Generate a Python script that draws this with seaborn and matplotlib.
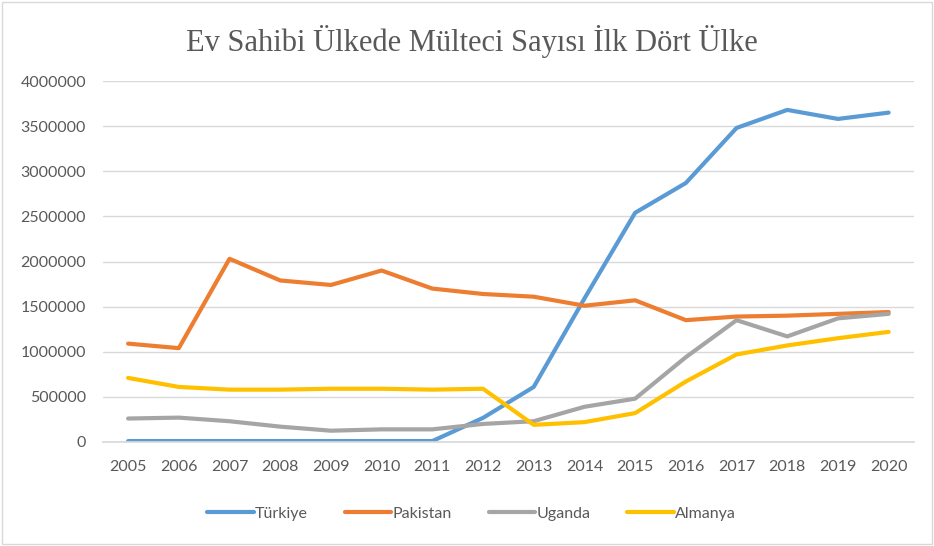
import pandas as pd
import matplotlib.pyplot as plt
import seaborn as sns
from matplotlib.patches import Rectangle

# data
years = [str(y) for y in range(2005, 2021)]
turkiye = [10000, 10000, 10000, 10000, 10000, 10000, 10000, 267000, 610000,
           1590000, 2540000, 2870000, 3480000, 3680000, 3580000, 3650000]
pakistan = [1090000, 1040000, 2030000, 1790000, 1740000, 1900000, 1700000, 1640000,
            1610000, 1510000, 1570000, 1350000, 1390000, 1400000, 1420000, 1440000]
uganda = [260000, 270000, 230000, 170000, 125000, 140000, 140000, 200000,
          230000, 390000, 480000, 940000, 1350000, 1170000, 1370000, 1420000]
almanya = [710000, 610000, 580000, 580000, 590000, 590000, 580000, 590000,
           190000, 220000, 320000, 670000, 970000, 1070000, 1150000, 1220000]
countries = ["Türkiye", "Pakistan", "Uganda", "Almanya"]
colors = ["#5B9BD5", "#ED7D31", "#A5A5A5", "#FFC000"]
yticks = list(range(0, 4000001, 500000))

frames = []
for name, vals in zip(countries, [turkiye, pakistan, uganda, almanya]):
    frames.append(pd.DataFrame({"year": years, "value": vals, "country": name}))
df = pd.concat(frames, ignore_index=True)

sns.set_theme(style="white")
plt.rcParams['font.family'] = ['Lato', 'DejaVu Sans']
text_gray = "#595959"

fig = plt.figure(figsize=(9.34, 5.46), dpi=100)
ax = fig.add_axes([0.110, 0.1905, 0.8686, 0.6611])

sns.lineplot(data=df, x="year", y="value", hue="country", hue_order=countries,
             palette=colors, linewidth=3, ax=ax, sort=False)

ax.set_xlim(-0.5, len(years) - 0.5)
ax.set_ylim(0, 4000000)
ax.set_yticks(yticks)
ax.set_yticklabels([str(v) for v in yticks])
ax.yaxis.grid(True, color="#D9D9D9", linewidth=1)
ax.set_axisbelow(True)
for side in ["top", "right", "left"]:
    ax.spines[side].set_visible(False)
ax.spines["bottom"].set_color("#D9D9D9")
ax.tick_params(axis="both", length=0, labelsize=11.5, labelcolor=text_gray)
ax.tick_params(axis="y", pad=12)
ax.tick_params(axis="x", pad=13)
ax.set_xlabel("")
ax.set_ylabel("")

fig.suptitle("Ev Sahibi Ülkede Mülteci Sayısı İlk Dört Ülke", x=0.505, y=0.955,
             fontsize=22, color=text_gray, family=["Liberation Serif"])

ax.legend(loc="lower center", bbox_to_anchor=(0.505, 0.02), bbox_transform=fig.transFigure,
          ncol=4, frameon=False, handlelength=2.9, handletextpad=0.1,
          columnspacing=2.3, fontsize=11.5, labelcolor=text_gray)

fig.patches.append(Rectangle((0.002, 0.003), 0.996, 0.994, transform=fig.transFigure,
                             fill=False, edgecolor="#D9D9D9", linewidth=1))

fig.savefig("out.png", dpi=100)
